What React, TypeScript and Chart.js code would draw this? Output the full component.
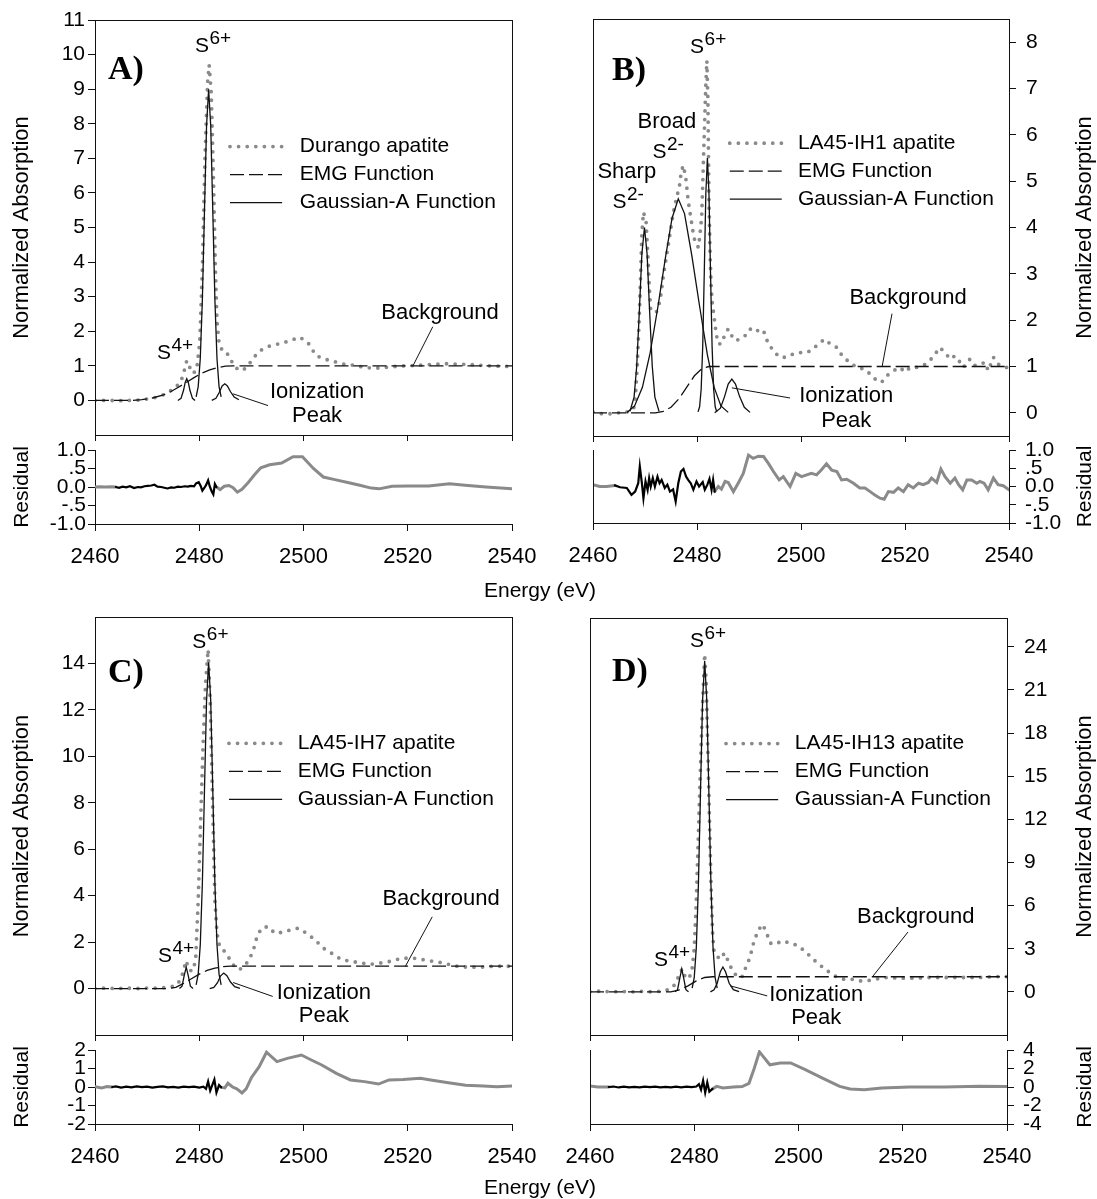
import React, { useEffect, useRef } from 'react';
import { Chart, registerables } from 'chart.js';

Chart.register(...registerables);

type Pt = [number, number];

const FONT = "'Liberation Sans', Arial, Helvetica, sans-serif";
const SERIF = "'Liberation Serif', 'Times New Roman', serif";
const GRAY = '#8a8a8a';
const INK = '#111111';

// ---------------- shared ticks / labels ----------------
const X_TICKS = [2460, 2480, 2500, 2520, 2540];
const X_LABELS = ['2460', '2480', '2500', '2520', '2540'];
const A_Y_TICKS = [0, 1, 2, 3, 4, 5, 6, 7, 8, 9, 10, 11];
const B_Y_TICKS = [0, 1, 2, 3, 4, 5, 6, 7, 8];
const C_Y_TICKS = [0, 2, 4, 6, 8, 10, 12, 14];
const D_Y_TICKS = [0, 3, 6, 9, 12, 15, 18, 21, 24];
const AB_RES_TICKS = [-1, -0.5, 0, 0.5, 1];
const AB_RES_LABELS = ['-1.0', '-.5', '0.0', '.5', '1.0'];
const C_RES_TICKS = [-2, -1, 0, 1, 2];
const C_RES_LABELS = ['-2', '-1', '0', '1', '2'];
const D_RES_TICKS = [-4, -2, 0, 2, 4];
const D_RES_LABELS = ['-4', '-2', '0', '2', '4'];
const LEGEND_FUNCS = ['EMG Function', 'Gaussian-A Function'];

// ---------------- Panel A: Durango ----------------
const A_SAMPLE: Pt[] = [
  [2460, 0], [2461.5, 0], [2463, 0], [2464.5, -0.01], [2466, 0], [2467.5, 0], [2469, 0.02], [2470.5, 0.05],
  [2472, 0.1], [2473.2, 0.17], [2474.4, 0.27], [2475.5, 0.38], [2476.5, 0.55], [2477.1, 0.85], [2477.6, 1.15],
  [2478.1, 0.98], [2478.8, 0.78], [2479.5, 0.88], [2480.1, 1.7], [2480.6, 3.8], [2481.1, 7.0], [2481.6, 9.2],
  [2481.9, 9.7], [2482.3, 8.9], [2482.7, 6.6], [2483.1, 3.8], [2483.4, 2.3], [2483.8, 1.65], [2484.4, 1.45],
  [2485.1, 1.42], [2485.8, 1.25], [2486.6, 1.02], [2487.4, 0.9], [2488.1, 0.86], [2488.9, 0.93], [2489.8, 1.1],
  [2490.8, 1.3], [2491.8, 1.45], [2493.6, 1.58], [2495.4, 1.64], [2497.3, 1.72], [2499.3, 1.83], [2500.9, 1.66],
  [2502.4, 1.3], [2503.9, 1.2], [2505.5, 1.14], [2507.3, 1.06], [2509.5, 1.02], [2511.5, 0.96], [2513.5, 0.93],
  [2515.5, 0.95], [2517.5, 0.98], [2519.5, 1.0], [2521.5, 1.01], [2523.5, 1.03], [2525.5, 1.05], [2527.5, 1.06],
  [2529.5, 1.05], [2531.5, 1.04], [2533.5, 1.02], [2535.5, 1.0], [2537.5, 0.99], [2540, 0.98],
];
const A_EMG: Pt[] = [
  [2460, 0], [2467, 0], [2469, 0.02], [2471, 0.07], [2473, 0.15], [2474.5, 0.25], [2476, 0.38], [2477.5, 0.52],
  [2479, 0.66], [2480.5, 0.79], [2482, 0.88], [2483.5, 0.95], [2485, 0.99], [2486.5, 1.0], [2540, 1.0],
];
const A_G_S4: Pt[] = [
  [2475.9, 0], [2476.5, 0.06], [2477, 0.3], [2477.3, 0.52], [2477.6, 0.63], [2477.9, 0.52], [2478.2, 0.3],
  [2478.7, 0.06], [2479.2, 0],
];
const A_G_S6: Pt[] = [
  [2479.4, 0.1], [2479.8, 0.4], [2480.2, 1.22], [2480.6, 2.92], [2481.0, 5.46], [2481.4, 7.94], [2481.8, 9.0],
  [2482.2, 7.94], [2482.6, 5.46], [2483.0, 2.92], [2483.4, 1.22], [2483.8, 0.4], [2484.2, 0.1],
];
const A_G_ION: Pt[] = [
  [2482.4, 0], [2483.2, 0.06], [2483.8, 0.22], [2484.4, 0.42], [2484.9, 0.48], [2485.4, 0.42], [2486, 0.25],
  [2486.7, 0.1], [2487.6, 0.02],
];
const A_RES_PRE: Pt[] = [[2460, 0], [2461, 0.01], [2462, 0], [2463, 0.01], [2464, 0]];
const A_RES_FIT: Pt[] = [
  [2464, 0], [2464.6, -0.02], [2465.3, 0.01], [2466, -0.01], [2466.7, 0.02], [2467.5, -0.03], [2468.2, 0],
  [2468.8, -0.01], [2469.5, 0.02], [2470.1, 0.03], [2470.8, 0.04], [2471.4, 0.06], [2472, 0.01], [2472.7, 0],
  [2473.3, -0.02], [2473.9, -0.04], [2474.6, -0.01], [2475.2, -0.02], [2475.9, 0.01], [2476.5, 0], [2477.2, 0.02],
  [2477.8, 0.01], [2478.4, 0.03], [2479, 0.02], [2479.4, 0.1], [2479.9, 0.13], [2480.3, 0.02], [2480.6, -0.1],
  [2481, -0.02], [2481.3, 0.05], [2481.7, 0.18], [2482, 0.02], [2482.4, -0.12], [2482.7, -0.2], [2483, 0.08],
  [2483.3, 0],
];
const A_RES_POST: Pt[] = [
  [2483.3, 0], [2484, -0.07], [2484.8, 0.02], [2485.7, 0.04], [2486.5, -0.02], [2487.3, -0.14], [2488.2, -0.06],
  [2489.4, 0.12], [2490.6, 0.33], [2491.8, 0.52], [2493.5, 0.6], [2495.8, 0.65], [2498, 0.82], [2499.8, 0.82],
  [2501.9, 0.5], [2503.8, 0.27], [2506, 0.2], [2508.5, 0.12], [2511, 0.04], [2513, -0.03], [2514.5, -0.05],
  [2517, 0.02], [2520, 0.03], [2524, 0.03], [2528, 0.09], [2531, 0.05], [2535, 0], [2540, -0.05],
];

// ---------------- Panel B: LA45-IH1 ----------------
const B_SAMPLE: Pt[] = [
  [2460, 0.02], [2461.7, -0.02], [2463.3, -0.02], [2464.9, 0], [2466.5, 0.02], [2467.8, 0.08], [2468.1, 0.26],
  [2468.5, 0.98], [2468.9, 2.06], [2469.2, 3.14], [2469.4, 3.86], [2469.7, 4.33], [2470.2, 4.15], [2470.5, 3.5],
  [2470.8, 2.78], [2471.1, 2.2], [2471.6, 2.18], [2472.2, 2.18], [2472.9, 2.42], [2473.5, 2.93], [2474.2, 3.43],
  [2474.8, 3.86], [2475.4, 4.3], [2476.1, 4.66], [2476.6, 4.87], [2477.0, 5.23], [2477.4, 5.34], [2477.9, 5.02],
  [2478.3, 4.58], [2478.8, 4.22], [2479.3, 3.86], [2479.7, 3.65], [2480.3, 3.57], [2480.9, 4.22], [2481.2, 5.3],
  [2481.5, 6.38], [2481.7, 7.1], [2481.9, 7.6], [2482.1, 6.75], [2482.2, 5.66], [2482.3, 4.58], [2482.5, 3.5],
  [2482.7, 2.78], [2482.9, 2.42], [2483.3, 2.06], [2483.7, 1.7], [2484.1, 1.49], [2484.7, 1.49], [2485.4, 1.7],
  [2486.0, 1.81], [2486.7, 1.66], [2487.3, 1.56], [2488.3, 1.59], [2489.2, 1.66], [2490.2, 1.81], [2491.2, 1.74],
  [2492.1, 1.81], [2492.8, 1.77], [2493.7, 1.49], [2495.0, 1.3], [2495.9, 1.2], [2497.2, 1.2], [2498.5, 1.27],
  [2499.5, 1.3], [2501.1, 1.3], [2502.4, 1.38], [2503.3, 1.49], [2504.6, 1.59], [2505.6, 1.49], [2506.9, 1.41],
  [2508.1, 1.2], [2509.4, 1.09], [2510.7, 0.98], [2512.0, 0.95], [2513.3, 0.84], [2514.6, 0.69], [2515.5, 0.66],
  [2516.5, 0.8], [2517.8, 0.91], [2519.0, 0.98], [2520.0, 0.88], [2521.0, 0.98], [2522.2, 0.98], [2523.5, 1.02],
  [2524.8, 1.13], [2525.8, 1.27], [2526.7, 1.41], [2527.7, 1.3], [2528.7, 1.16], [2529.6, 1.23], [2530.6, 1.09],
  [2531.2, 0.98], [2532.5, 1.16], [2533.5, 1.02], [2534.4, 1.05], [2535.4, 1.09], [2536.0, 0.91], [2537.0, 1.2],
  [2537.9, 1.05], [2539.2, 0.98], [2540, 0.98],
];
const B_EMG: Pt[] = [
  [2460, 0], [2472, 0], [2473.5, 0.03], [2475, 0.12], [2476.5, 0.3], [2478, 0.55], [2479.5, 0.8], [2481, 0.96],
  [2482.3, 1.0], [2540, 1.0],
];
const B_G_SHARP: Pt[] = [
  [2467.1, 0.03], [2467.9, 0.34], [2468.4, 1.0], [2468.9, 2.16], [2469.4, 3.43], [2469.9, 4.0], [2470.4, 3.43],
  [2470.9, 2.16], [2471.4, 1.0], [2471.9, 0.34], [2472.7, 0.03],
];
const B_G_BROAD: Pt[] = [
  [2466.5, 0], [2468, 0.15], [2469.5, 0.55], [2471, 1.3], [2472.5, 2.3], [2474, 3.4], [2475.2, 4.2],
  [2476.4, 4.62], [2477.6, 4.3], [2479, 3.4], [2480.5, 2.3], [2482, 1.25], [2483.3, 0.55], [2484.6, 0.15],
  [2486, 0.01],
];
const B_G_S6: Pt[] = [
  [2480.2, 0.02], [2480.5, 0.13], [2480.8, 0.51], [2481.1, 1.44], [2481.4, 3.03], [2481.7, 4.74], [2482.0, 5.5],
  [2482.3, 4.74], [2482.6, 3.03], [2482.9, 1.44], [2483.2, 0.51], [2483.5, 0.13], [2483.8, 0.02],
];
const B_G_ION: Pt[] = [
  [2483.4, 0], [2484.5, 0.1], [2485.3, 0.35], [2486, 0.62], [2486.7, 0.73], [2487.4, 0.62], [2488.2, 0.35],
  [2489.1, 0.12], [2490.2, 0.01],
];
const B_RES_PRE: Pt[] = [[2460, 0.05], [2461.3, 0], [2462.6, 0], [2464.2, 0.03]];
const B_RES_FIT: Pt[] = [
  [2464.2, 0.03], [2465.2, -0.02], [2466.5, -0.04], [2467.4, -0.23], [2468.1, -0.14], [2468.7, 0.09],
  [2469.0, 0.55], [2469.4, 0.09], [2469.7, -0.32], [2470.1, 0.14], [2470.5, -0.09], [2470.8, 0.23], [2471.1, 0],
  [2471.5, 0.23], [2471.9, 0], [2472.4, 0.27], [2472.8, 0.09], [2473.2, 0.18], [2473.8, -0.04], [2474.3, 0.05],
  [2474.8, -0.14], [2475.4, -0.08], [2475.9, -0.41], [2476.4, 0.09], [2476.9, 0.41], [2477.4, 0.48],
  [2477.9, 0.27], [2478.3, 0.18], [2478.8, 0.09], [2479.3, -0.09], [2479.9, 0.14], [2480.4, 0], [2481.1, 0.12],
  [2481.5, -0.09], [2482.0, 0.05], [2482.4, 0.21], [2482.8, -0.09], [2483.1, 0.18], [2483.4, -0.14],
];
const B_RES_POST: Pt[] = [
  [2483.4, -0.14], [2484.1, 0], [2484.7, -0.07], [2485.4, 0.14], [2486, 0.11], [2487, -0.14], [2488, 0.11],
  [2488.9, 0.36], [2489.9, 0.86], [2490.8, 0.77], [2491.8, 0.83], [2492.8, 0.82], [2493.7, 0.64], [2494.7, 0.41],
  [2495.8, 0.18], [2496.6, 0.27], [2497.9, 0], [2499, 0.36], [2500.1, 0.27], [2501.1, 0.32], [2502, 0.36],
  [2503, 0.32], [2503.9, 0.45], [2504.9, 0.62], [2505.9, 0.45], [2506.9, 0.41], [2507.8, 0.18], [2508.8, 0.2],
  [2510.1, 0.09], [2511.3, -0.04], [2512.3, -0.04], [2513.3, -0.14], [2514.2, -0.23], [2515.2, -0.32],
  [2516, -0.35], [2516.8, -0.14], [2517.8, -0.16], [2518.7, -0.04], [2519.7, -0.14], [2520.6, 0.05],
  [2521.6, -0.04], [2522.6, 0.09], [2523.5, 0.05], [2524.5, 0.11], [2525.1, 0.23], [2526.1, 0.11], [2526.9, 0.48],
  [2527.7, 0.27], [2528.7, 0.09], [2529.6, 0.23], [2530.3, 0.05], [2531.1, -0.09], [2531.9, 0.18], [2532.8, 0.18],
  [2533.8, 0.09], [2534.4, 0.14], [2535.2, 0.09], [2536, -0.09], [2537, 0.23], [2537.9, 0.05], [2538.9, 0.02],
  [2540, -0.09],
];

// ---------------- Panel C: LA45-IH7 ----------------
const C_SAMPLE: Pt[] = [
  [2460, 0], [2462, 0.02], [2464, 0], [2466, 0.02], [2468, 0], [2470, 0.02], [2472, 0.02], [2474, 0.05],
  [2475.5, 0.12], [2476.5, 0.4], [2477.1, 0.9], [2477.5, 1.2], [2478, 0.8], [2478.7, 0.75], [2479.3, 1.2],
  [2479.8, 3.8], [2480.2, 6.7], [2480.7, 10.3], [2481.2, 13.1], [2481.7, 14.6], [2482.1, 12.4], [2482.4, 9.5],
  [2482.7, 6.7], [2483.0, 3.8], [2483.4, 2.4], [2483.9, 1.82], [2484.6, 1.67], [2485.3, 1.46], [2486.1, 1.17],
  [2486.9, 0.9], [2487.8, 0.83], [2488.9, 1.04], [2489.6, 1.25], [2490.4, 1.67], [2491, 2.17], [2491.9, 2.6],
  [2493.2, 2.67], [2494.5, 2.38], [2495.8, 2.42], [2497.1, 2.5], [2499, 2.6], [2500.6, 2.38], [2502.2, 2.1],
  [2503.8, 1.74], [2505.4, 1.52], [2507.3, 1.24], [2509.2, 1.17], [2511.2, 1.1], [2512.8, 1.04], [2514.7, 1.1],
  [2516.6, 1.17], [2518.9, 1.31], [2521.1, 1.31], [2523, 1.24], [2525, 1.17], [2526.9, 1.1], [2528.8, 0.98],
  [2531.4, 0.92], [2533.9, 0.92], [2536.5, 0.96], [2540, 0.96],
];
const C_EMG: Pt[] = [
  [2460, 0], [2474, 0], [2475.5, 0.05], [2477, 0.22], [2478.5, 0.42], [2480, 0.62], [2481.5, 0.78], [2483, 0.88],
  [2484.5, 0.94], [2486, 0.97], [2540, 0.97],
];
const C_G_S4: Pt[] = [
  [2476.2, 0], [2476.7, 0.1], [2477.1, 0.55], [2477.5, 0.92], [2477.9, 0.55], [2478.3, 0.1], [2478.8, 0],
];
const C_G_S6: Pt[] = [
  [2479.4, 0.16], [2479.8, 0.62], [2480.2, 1.9], [2480.6, 4.56], [2481.0, 8.52], [2481.4, 12.4], [2481.8, 14.05],
  [2482.2, 12.4], [2482.6, 8.52], [2483.0, 4.56], [2483.4, 1.9], [2483.8, 0.62], [2484.2, 0.16],
];
const C_G_ION: Pt[] = [
  [2482, 0], [2482.8, 0.05], [2483.5, 0.25], [2484.1, 0.55], [2484.7, 0.67], [2485.3, 0.55], [2486, 0.28],
  [2486.8, 0.08], [2487.8, 0.01],
];
const C_RES_PRE: Pt[] = [[2460, 0.02], [2461.3, -0.05], [2462.3, 0.02], [2463.3, 0]];
const C_RES_FIT: Pt[] = [
  [2463.3, 0], [2464, 0.03], [2465, -0.03], [2466, 0.02], [2467, -0.02], [2468, 0.03], [2469, -0.01], [2470, 0.02],
  [2471, -0.03], [2472, 0.01], [2473, 0.03], [2474, -0.02], [2475, 0.01], [2476, -0.03], [2477, 0.02],
  [2478, -0.01], [2479, 0.02], [2480, -0.03], [2480.8, 0.02], [2481.3, -0.1], [2481.7, 0.3], [2482.1, -0.2],
  [2482.5, 0.1], [2482.9, 0.4], [2483.3, -0.3], [2483.8, 0.1], [2484.2, -0.02],
];
const C_RES_POST: Pt[] = [
  [2484.2, -0.02], [2484.9, -0.05], [2485.5, 0.2], [2486.4, 0], [2487.2, -0.1], [2488.2, -0.32], [2489, -0.1],
  [2490, 0.5], [2491.5, 1.1], [2492.9, 1.88], [2494.9, 1.37], [2496.9, 1.55], [2499.6, 1.73], [2501.5, 1.46],
  [2503.5, 1.19], [2506.3, 0.74], [2509, 0.38], [2511.7, 0.29], [2514.4, 0.16], [2516.4, 0.38], [2519.1, 0.41],
  [2522.4, 0.47], [2524.4, 0.38], [2527.8, 0.23], [2531.1, 0.09], [2534.5, 0.05], [2537.1, 0.02], [2540, 0.05],
];

// ---------------- Panel D: LA45-IH13 ----------------
const D_SAMPLE: Pt[] = [
  [2460, 0], [2462, 0.05], [2464, 0], [2466, 0.03], [2468, 0], [2470, 0.03], [2472, 0], [2474, 0.05],
  [2475.5, 0.2], [2476.5, 0.6], [2477.2, 1.3], [2477.7, 1.6], [2478.3, 1.0], [2478.8, 0.9], [2479.5, 1.3],
  [2480.0, 3.0], [2480.4, 6.4], [2481.0, 13.4], [2481.5, 19.1], [2482.0, 23.5], [2482.3, 21.5], [2482.6, 16.9],
  [2482.9, 12.3], [2483.2, 7.7], [2483.5, 4.2], [2483.8, 2.8], [2484.3, 2.5], [2485.0, 2.27], [2485.8, 2.7],
  [2486.2, 2.4], [2487.2, 1.57], [2488.1, 1.1], [2489.1, 1.0], [2490, 1.8], [2490.7, 2.4], [2491.3, 3.3],
  [2492.2, 4.24], [2493.1, 4.7], [2493.9, 4.1], [2494.5, 3.4], [2495.5, 3.3], [2496.8, 3.54], [2498.4, 3.4],
  [2500, 3.2], [2501.6, 2.7], [2503.2, 2.15], [2505.1, 1.57], [2507, 1.1], [2508.6, 0.88], [2510.2, 0.88],
  [2511.8, 0.76], [2513.1, 0.76], [2514.7, 0.88], [2516.9, 1.0], [2519.5, 0.95], [2522.1, 0.95], [2525.2, 1.0],
  [2528.4, 1.0], [2531.6, 1.0], [2534.8, 1.0], [2537.4, 1.06], [2540, 1.06],
];
const D_EMG: Pt[] = [
  [2460, 0], [2475.5, 0], [2477, 0.12], [2478.8, 0.42], [2480.4, 0.76], [2482, 1.0], [2483.5, 1.05], [2540, 1.05],
];
const D_G_S4: Pt[] = [
  [2476.3, 0], [2476.8, 0.15], [2477.2, 0.9], [2477.6, 1.6], [2478, 0.9], [2478.4, 0.15], [2478.9, 0],
];
const D_G_S6: Pt[] = [
  [2479.6, 0.26], [2480.0, 1.01], [2480.4, 3.1], [2480.8, 7.47], [2481.2, 13.96], [2481.6, 20.3], [2482.0, 23],
  [2482.4, 20.3], [2482.8, 13.96], [2483.2, 7.47], [2483.6, 3.1], [2484.0, 1.01], [2484.4, 0.26],
];
const D_G_ION: Pt[] = [
  [2483.1, 0], [2483.8, 0.15], [2484.4, 0.6], [2485, 1.4], [2485.5, 1.73], [2486, 1.4], [2486.7, 0.6],
  [2487.5, 0.15], [2488.6, 0.01],
];
const D_RES_PRE: Pt[] = [[2460, 0.1], [2461.5, 0], [2463.6, 0]];
const D_RES_FIT: Pt[] = [
  [2463.6, 0], [2464.5, 0.05], [2465.5, -0.05], [2466.5, 0.03], [2467.5, -0.04], [2468.5, 0.02], [2469.5, -0.03],
  [2470.5, 0.04], [2471.5, -0.02], [2472.5, 0.03], [2473.5, -0.05], [2474.5, 0.02], [2475.5, -0.03],
  [2476.5, 0.04], [2477.5, -0.04], [2478.5, 0.03], [2479.5, -0.02], [2480.4, 0.05], [2480.9, 0.3],
  [2481.3, -0.3], [2481.7, 0.7], [2482.1, -0.6], [2482.5, 0.5], [2482.9, -0.5], [2483.5, -0.2],
];
const D_RES_POST: Pt[] = [
  [2483.5, -0.2], [2484.3, 0.07], [2485.5, -0.1], [2487.5, 0], [2489.2, 0.05], [2490.5, 0.4], [2491.5, 2.0],
  [2492.5, 3.8], [2494.5, 2.4], [2496.5, 2.6], [2498.5, 2.6], [2501.2, 1.9], [2504.6, 0.97], [2507.9, 0.07],
  [2509.9, -0.22], [2512.6, -0.3], [2516, -0.1], [2521.3, 0], [2528, 0], [2534.7, 0.07], [2540, 0.05],
];

// ---------------- styles ----------------
const STYLE_SAMPLE = { color: GRAY, width: 3.8, dash: [0, 8.6], cap: 'round' as CanvasLineCap };
const STYLE_EMG = { color: INK, width: 1.3, dash: [14, 5], cap: 'butt' as CanvasLineCap };
const STYLE_GAUSS = { color: INK, width: 1.3, dash: [] as number[], cap: 'butt' as CanvasLineCap };

interface TextItem { t: string; x: number; y: number; size?: number; bold?: boolean; serif?: boolean; align?: CanvasTextAlign; base?: CanvasTextBaseline }
interface SupItem { base: string; sup: string; x: number; y: number }
interface Leader { x1: number; y1: number; x2: number; y2: number }

interface PanelSpec {
  key: string;
  side: 'left' | 'right';
  canvasLeft: number; canvasWidth: number;
  mainCanvasTop: number; mainCanvasHeight: number;
  resCanvasTop: number; resCanvasHeight: number;
  areaLeft: number; areaRight: number;
  mainTop: number; mainBottom: number;
  resTop: number; resBottom: number;
  yMin: number; yMax: number; yTicks: number[];
  resMin: number; resMax: number; resTicks: number[]; resLabels: string[];
  sample: Pt[]; emg: Pt[]; gauss: Pt[][];
  resPre: Pt[]; resFit: Pt[]; resPost: Pt[];
  legendLabel: string;
  legend: { x0: number; x1: number; xt: number; y: number };
  texts: TextItem[]; sups: SupItem[]; leaders: Leader[];
  titleOffset: number;
}

const PANELS: PanelSpec[] = [
  {
    key: 'A', side: 'left', canvasLeft: 0, canvasWidth: 548,
    mainCanvasTop: 0, mainCanvasHeight: 450, resCanvasTop: 440, resCanvasHeight: 160,
    areaLeft: 95, areaRight: 512, mainTop: 20, mainBottom: 435, resTop: 450, resBottom: 524,
    yMin: -1, yMax: 11, yTicks: A_Y_TICKS,
    resMin: -1, resMax: 1, resTicks: AB_RES_TICKS, resLabels: AB_RES_LABELS,
    sample: A_SAMPLE, emg: A_EMG, gauss: [A_G_S4, A_G_S6, A_G_ION],
    resPre: A_RES_PRE, resFit: A_RES_FIT, resPost: A_RES_POST,
    legendLabel: 'Durango apatite',
    legend: { x0: 2485.9, x1: 2495.9, xt: 2499.3, y: 7.34 },
    texts: [
      { t: 'A)', x: 2462.5, y: 9.3, size: 34, bold: true, serif: true, align: 'left', base: 'alphabetic' },
      { t: 'Background', x: 2526.2, y: 2.53 },
      { t: 'Ionization', x: 2502.6, y: 0.25 },
      { t: 'Peak', x: 2502.6, y: -0.44 },
    ],
    sups: [{ base: 'S', sup: '6+', x: 2482.6, y: 10.08 }, { base: 'S', sup: '4+', x: 2475.3, y: 1.2 }],
    leaders: [{ x1: 2524.8, y1: 2.13, x2: 2521.0, y2: 1.0 }, { x1: 2486.5, y1: 0.19, x2: 2493.2, y2: -0.15 }],
    titleOffset: 73,
  },
  {
    key: 'B', side: 'right', canvasLeft: 548, canvasWidth: 549,
    mainCanvasTop: 0, mainCanvasHeight: 450, resCanvasTop: 440, resCanvasHeight: 160,
    areaLeft: 593, areaRight: 1009, mainTop: 19, mainBottom: 436, resTop: 450, resBottom: 523,
    yMin: -0.5, yMax: 8.5, yTicks: B_Y_TICKS,
    resMin: -1, resMax: 1, resTicks: AB_RES_TICKS, resLabels: AB_RES_LABELS,
    sample: B_SAMPLE, emg: B_EMG, gauss: [B_G_SHARP, B_G_BROAD, B_G_S6, B_G_ION],
    resPre: B_RES_PRE, resFit: B_RES_FIT, resPost: B_RES_POST,
    legendLabel: 'LA45-IH1 apatite',
    legend: { x0: 2486.3, x1: 2496.3, xt: 2499.4, y: 5.82 },
    texts: [
      { t: 'B)', x: 2463.65, y: 7.18, size: 34, bold: true, serif: true, align: 'left', base: 'alphabetic' },
      { t: 'Broad', x: 2474.2, y: 6.27 },
      { t: 'Sharp', x: 2466.5, y: 5.19 },
      { t: 'Background', x: 2520.6, y: 2.49 },
      { t: 'Ionization', x: 2508.7, y: 0.37 },
      { t: 'Peak', x: 2508.7, y: -0.17 },
    ],
    sups: [
      { base: 'S', sup: '6+', x: 2482.1, y: 7.76 },
      { base: 'S', sup: '2-', x: 2474.4, y: 5.51 },
      { base: 'S', sup: '2-', x: 2466.7, y: 4.43 },
    ],
    leaders: [{ x1: 2517.5, y1: 2.14, x2: 2515.6, y2: 1.0 }, { x1: 2486.7, y1: 0.54, x2: 2497.9, y2: 0.32 }],
    titleOffset: 76,
  },
  {
    key: 'C', side: 'left', canvasLeft: 0, canvasWidth: 548,
    mainCanvasTop: 597, mainCanvasHeight: 450, resCanvasTop: 1040, resCanvasHeight: 159,
    areaLeft: 95, areaRight: 512, mainTop: 617, mainBottom: 1035, resTop: 1050, resBottom: 1124,
    yMin: -2, yMax: 16, yTicks: C_Y_TICKS,
    resMin: -2, resMax: 2, resTicks: C_RES_TICKS, resLabels: C_RES_LABELS,
    sample: C_SAMPLE, emg: C_EMG, gauss: [C_G_S4, C_G_S6, C_G_ION],
    resPre: C_RES_PRE, resFit: C_RES_FIT, resPost: C_RES_POST,
    legendLabel: 'LA45-IH7 apatite',
    legend: { x0: 2485.7, x1: 2495.9, xt: 2498.9, y: 10.56 },
    texts: [
      { t: 'C)', x: 2462.5, y: 13.19, size: 34, bold: true, serif: true, align: 'left', base: 'alphabetic' },
      { t: 'Background', x: 2526.4, y: 3.86 },
      { t: 'Ionization', x: 2503.9, y: -0.17 },
      { t: 'Peak', x: 2503.9, y: -1.2 },
    ],
    sups: [{ base: 'S', sup: '6+', x: 2482.1, y: 14.68 }, { base: 'S', sup: '4+', x: 2475.5, y: 1.16 }],
    leaders: [{ x1: 2524.7, y1: 3.09, x2: 2519.5, y2: 0.94 }, { x1: 2486.5, y1: 0.26, x2: 2494.1, y2: -0.34 }],
    titleOffset: 73,
  },
  {
    key: 'D', side: 'right', canvasLeft: 548, canvasWidth: 549,
    mainCanvasTop: 597, mainCanvasHeight: 450, resCanvasTop: 1040, resCanvasHeight: 159,
    areaLeft: 590, areaRight: 1007, mainTop: 618, mainBottom: 1035, resTop: 1050, resBottom: 1124,
    yMin: -3, yMax: 26, yTicks: D_Y_TICKS,
    resMin: -4, resMax: 4, resTicks: D_RES_TICKS, resLabels: D_RES_LABELS,
    sample: D_SAMPLE, emg: D_EMG, gauss: [D_G_S4, D_G_S6, D_G_ION],
    resPre: D_RES_PRE, resFit: D_RES_FIT, resPost: D_RES_POST,
    legendLabel: 'LA45-IH13 apatite',
    legend: { x0: 2486.1, x1: 2496.1, xt: 2499.3, y: 17.27 },
    texts: [
      { t: 'D)', x: 2464.2, y: 21.59, size: 34, bold: true, serif: true, align: 'left', base: 'alphabetic' },
      { t: 'Background', x: 2522.5, y: 5.2 },
      { t: 'Ionization', x: 2503.4, y: -0.2 },
      { t: 'Peak', x: 2503.4, y: -1.8 },
    ],
    sups: [{ base: 'S', sup: '6+', x: 2482.6, y: 24.0 }, { base: 'S', sup: '4+', x: 2475.7, y: 1.8 }],
    leaders: [{ x1: 2521.0, y1: 4.16, x2: 2514.3, y2: 1.1 }, { x1: 2486.9, y1: 0.42, x2: 2494.0, y2: -0.28 }],
    titleOffset: 78,
  },
];

const toXY = (a: Pt[]) => a.map(([x, y]) => ({ x, y }));

function fixedScale(o: {
  position: string; min: number; max: number; ticks: number[]; labels: string[] | null;
  size: number; tickLen: number; pad: number; horizontal: boolean; fontSize: number;
}): any {
  return {
    type: 'linear',
    position: o.position,
    min: o.min,
    max: o.max,
    bounds: 'data',
    afterBuildTicks: (s: any) => { s.ticks = o.ticks.map((v) => ({ value: v })); },
    afterFit: (s: any) => {
      if (o.horizontal) s.height = o.size; else s.width = o.size;
      s.paddingTop = 0; s.paddingBottom = 0; s.paddingLeft = 0; s.paddingRight = 0;
    },
    ticks: {
      callback: (_v: any, i: number) => (o.labels ? o.labels[i] ?? '' : ''),
      font: { size: o.fontSize, family: FONT },
      color: '#000',
      padding: o.pad,
      autoSkip: false,
      maxRotation: 0,
      minRotation: 0,
    },
    grid: { drawOnChartArea: false, drawTicks: true, tickLength: o.tickLen, color: INK, lineWidth: 1 },
    border: { display: true, color: INK, width: 1 },
  };
}

function ds(points: Pt[], st: { color: string; width: number; dash: number[]; cap: CanvasLineCap }): any {
  return {
    data: toXY(points),
    borderColor: st.color,
    borderWidth: st.width,
    borderDash: st.dash,
    borderCapStyle: st.cap,
    pointRadius: 0,
    fill: false,
    tension: 0,
  };
}

function drawTitle(ctx: CanvasRenderingContext2D, text: string, x: number, y: number, size: number) {
  ctx.save();
  ctx.translate(x, y);
  ctx.rotate(-Math.PI / 2);
  ctx.font = `${size}px ${FONT}`;
  ctx.fillStyle = '#000';
  ctx.textAlign = 'center';
  ctx.textBaseline = 'middle';
  ctx.fillText(text, 0, 0);
  ctx.restore();
}

function mainOverlay(p: PanelSpec): any {
  return {
    id: 'mainOverlay' + p.key,
    afterDatasetsDraw(chart: any) {
      const { ctx, chartArea: ca } = chart;
      const X = (v: number) => chart.scales.x.getPixelForValue(v);
      const Y = (v: number) => chart.scales.y.getPixelForValue(v);
      ctx.save();
      // frame
      ctx.strokeStyle = INK;
      ctx.lineWidth = 1;
      ctx.setLineDash([]);
      const l = Math.round(ca.left) + 0.5, t = Math.round(ca.top) + 0.5;
      const r = Math.round(ca.right) + 0.5, b = Math.round(ca.bottom) + 0.5;
      ctx.strokeRect(l, t, r - l, b - t);
      // leader lines
      for (const ld of p.leaders) {
        ctx.beginPath();
        ctx.moveTo(X(ld.x1), Y(ld.y1));
        ctx.lineTo(X(ld.x2), Y(ld.y2));
        ctx.stroke();
      }
      // texts
      ctx.fillStyle = '#000';
      for (const tx of p.texts) {
        const fam = tx.serif ? SERIF : FONT;
        ctx.font = `${tx.bold ? 'bold ' : ''}${tx.size ?? 22}px ${fam}`;
        ctx.textAlign = tx.align ?? 'center';
        ctx.textBaseline = tx.base ?? 'middle';
        ctx.fillText(tx.t, X(tx.x), Y(tx.y));
      }
      // superscript labels
      for (const s of p.sups) {
        ctx.font = `21px ${FONT}`;
        const wb = ctx.measureText(s.base).width;
        ctx.font = `19px ${FONT}`;
        const ws = ctx.measureText(s.sup).width;
        const x0 = X(s.x) - (wb + ws) / 2;
        const y0 = Y(s.y);
        ctx.textAlign = 'left';
        ctx.textBaseline = 'alphabetic';
        ctx.font = `21px ${FONT}`;
        ctx.fillText(s.base, x0, y0);
        ctx.font = `19px ${FONT}`;
        ctx.fillText(s.sup, x0 + wb + 0.5, y0 - 8);
      }
      // legend
      const rows = [
        { st: STYLE_SAMPLE, label: p.legendLabel },
        { st: STYLE_EMG, label: LEGEND_FUNCS[0] },
        { st: STYLE_GAUSS, label: LEGEND_FUNCS[1] },
      ];
      const ly = Y(p.legend.y);
      rows.forEach((row, i) => {
        const yy = ly + i * 28;
        ctx.save();
        ctx.strokeStyle = row.st.color;
        ctx.lineWidth = row.st.width;
        ctx.setLineDash(row.st.dash);
        ctx.lineCap = row.st.cap;
        ctx.beginPath();
        ctx.moveTo(X(p.legend.x0), yy);
        ctx.lineTo(X(p.legend.x1), yy);
        ctx.stroke();
        ctx.restore();
        ctx.fillStyle = '#000';
        ctx.font = `21px ${FONT}`;
        ctx.textAlign = 'left';
        ctx.textBaseline = 'middle';
        ctx.fillText(row.label, X(p.legend.xt), yy);
      });
      // axis title
      const midY = (ca.top + ca.bottom) / 2;
      const tx = p.side === 'left' ? ca.left - p.titleOffset : ca.right + p.titleOffset;
      drawTitle(ctx, 'Normalized Absorption', tx, midY, 22);
      ctx.restore();
    },
  };
}

function resOverlay(p: PanelSpec): any {
  return {
    id: 'resOverlay' + p.key,
    afterDatasetsDraw(chart: any) {
      const { ctx, chartArea: ca } = chart;
      ctx.save();
      if (p.side === 'right') {
        ctx.strokeStyle = INK;
        ctx.lineWidth = 1;
        const l = Math.round(ca.left) + 0.5;
        ctx.beginPath();
        ctx.moveTo(l, ca.top);
        ctx.lineTo(l, ca.bottom);
        ctx.stroke();
      }
      const midY = (ca.top + ca.bottom) / 2;
      const tx = p.side === 'left' ? ca.left - p.titleOffset : ca.right + p.titleOffset;
      drawTitle(ctx, 'Residual', tx, midY, 21);
      ctx.restore();
    },
  };
}

function buildMain(p: PanelSpec): any {
  const top = p.mainTop - p.mainCanvasTop;
  const bottomAxis = p.mainCanvasHeight - (p.mainBottom - p.mainCanvasTop);
  const leftRel = p.areaLeft - p.canvasLeft;
  const rightRel = p.canvasLeft + p.canvasWidth - p.areaRight;
  const isLeft = p.side === 'left';
  const datasets = [
    ...p.gauss.map((g) => ds(g, STYLE_GAUSS)),
    ds(p.emg, STYLE_EMG),
    ds(p.sample, STYLE_SAMPLE),
  ];
  return {
    type: 'line',
    data: { datasets },
    options: {
      responsive: false,
      maintainAspectRatio: false,
      animation: false,
      devicePixelRatio: 1,
      events: [],
      layout: { padding: { top, bottom: 0, left: isLeft ? 0 : leftRel, right: isLeft ? rightRel : 0 } },
      plugins: { legend: { display: false }, tooltip: { enabled: false } },
      scales: {
        x: fixedScale({ position: 'bottom', min: 2460, max: 2540, ticks: X_TICKS, labels: null, size: bottomAxis, tickLen: 6, pad: 0, horizontal: true, fontSize: 22 }),
        y: fixedScale({
          position: p.side, min: p.yMin, max: p.yMax, ticks: p.yTicks, labels: p.yTicks.map(String),
          size: isLeft ? leftRel : rightRel, tickLen: 7, pad: isLeft ? 3 : 10, horizontal: false, fontSize: 21,
        }),
      },
    },
    plugins: [mainOverlay(p)],
  };
}

function buildRes(p: PanelSpec): any {
  const top = p.resTop - p.resCanvasTop;
  const bottomAxis = p.resCanvasHeight - (p.resBottom - p.resCanvasTop);
  const leftRel = p.areaLeft - p.canvasLeft;
  const rightRel = p.canvasLeft + p.canvasWidth - p.areaRight;
  const isLeft = p.side === 'left';
  const fitStyle = { color: '#000', width: 2.2, dash: [] as number[], cap: 'round' as CanvasLineCap };
  const grayStyle = { color: GRAY, width: 3, dash: [] as number[], cap: 'round' as CanvasLineCap };
  return {
    type: 'line',
    data: { datasets: [ds(p.resFit, fitStyle), ds(p.resPre, grayStyle), ds(p.resPost, grayStyle)] },
    options: {
      responsive: false,
      maintainAspectRatio: false,
      animation: false,
      devicePixelRatio: 1,
      events: [],
      layout: { padding: { top, bottom: 0, left: isLeft ? 0 : leftRel, right: isLeft ? rightRel : 0 } },
      plugins: { legend: { display: false }, tooltip: { enabled: false } },
      scales: {
        x: fixedScale({ position: 'bottom', min: 2460, max: 2540, ticks: X_TICKS, labels: X_LABELS, size: bottomAxis, tickLen: 7, pad: 13, horizontal: true, fontSize: 22 }),
        y: fixedScale({
          position: p.side, min: p.resMin, max: p.resMax, ticks: p.resTicks, labels: p.resLabels,
          size: isLeft ? leftRel : rightRel, tickLen: 7, pad: isLeft ? 2 : 9, horizontal: false, fontSize: 21,
        }),
      },
    },
    plugins: [resOverlay(p)],
  };
}

function ChartCanvas(props: { left: number; top: number; width: number; height: number; build: () => any }) {
  const ref = useRef<HTMLCanvasElement>(null);
  useEffect(() => {
    const chart = new Chart(ref.current as HTMLCanvasElement, props.build());
    return () => chart.destroy();
  }, []);
  return (
    <canvas
      ref={ref}
      width={props.width}
      height={props.height}
      style={{ position: 'absolute', left: props.left, top: props.top, width: props.width, height: props.height }}
    />
  );
}

export default function App() {
  return (
    <div style={{ position: 'absolute', left: 0, top: 0, width: 1097, height: 1199, background: '#fff', overflow: 'hidden' }}>
      {PANELS.map((p) => (
        <React.Fragment key={p.key}>
          <ChartCanvas left={p.canvasLeft} top={p.mainCanvasTop} width={p.canvasWidth} height={p.mainCanvasHeight} build={() => buildMain(p)} />
          <ChartCanvas left={p.canvasLeft} top={p.resCanvasTop} width={p.canvasWidth} height={p.resCanvasHeight} build={() => buildRes(p)} />
        </React.Fragment>
      ))}
      <div style={{ position: 'absolute', left: 440, top: 578, width: 200, textAlign: 'center', font: `21px ${FONT}`, lineHeight: '24px', color: '#000' }}>
        Energy (eV)
      </div>
      <div style={{ position: 'absolute', left: 440, top: 1175, width: 200, textAlign: 'center', font: `21px ${FONT}`, lineHeight: '24px', color: '#000' }}>
        Energy (eV)
      </div>
    </div>
  );
}
